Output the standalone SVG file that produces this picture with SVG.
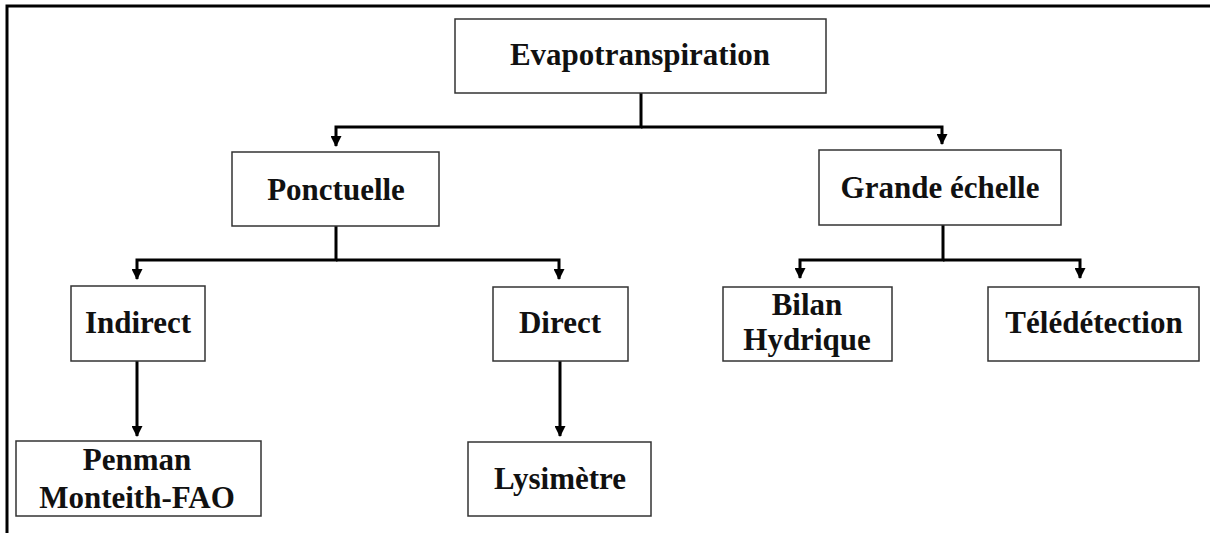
<svg xmlns="http://www.w3.org/2000/svg" width="1210" height="533" viewBox="0 0 1210 533">
  <defs>
    <style>
      .box { fill: #ffffff; stroke: #333333; stroke-width: 1.5; }
      .lbl { font-family: "Liberation Serif", "Times New Roman", serif; font-weight: bold; font-size: 31px; fill: #111111; text-anchor: middle; }
      .conn { fill: none; stroke: #000000; stroke-width: 3; marker-end: url(#arr); }
      .frame { fill: none; stroke: #000000; stroke-width: 3; }
    </style>
    <marker id="arr" markerUnits="userSpaceOnUse" markerWidth="11" markerHeight="11" refX="10" refY="5.5" orient="auto">
      <path d="M0,0 L11,5.5 L0,11 z" fill="#000000"/>
    </marker>
  </defs>
  <rect x="0" y="0" width="1210" height="533" fill="#ffffff"/>
  <path class="frame" d="M7,533 V6 H1210"/>

  <g id="connectors">
    <path class="conn" d="M641,93 V127 H336 V146"/>
    <path class="conn" d="M641,127 H942 V144"/>
    <path class="conn" d="M336,226 V260 H137 V279"/>
    <path class="conn" d="M336,260 H559 V279"/>
    <path class="conn" d="M943,225 V260 H800 V278"/>
    <path class="conn" d="M943,260 H1080 V278"/>
    <path class="conn" d="M137,361 V436"/>
    <path class="conn" d="M560,361 V436"/>
  </g>

  <g id="evapotranspiration">
    <rect class="box" x="455" y="19" width="371" height="74"/>
    <text class="lbl" x="640" y="65">Evapotranspiration</text>
  </g>
  <g id="ponctuelle">
    <rect class="box" x="232" y="152" width="207" height="74"/>
    <text class="lbl" x="336" y="200">Ponctuelle</text>
  </g>
  <g id="grande-echelle">
    <rect class="box" x="819" y="150" width="242" height="75"/>
    <text class="lbl" x="940" y="198">Grande échelle</text>
  </g>
  <g id="indirect">
    <rect class="box" x="71" y="286" width="134" height="75"/>
    <text class="lbl" x="138" y="333">Indirect</text>
  </g>
  <g id="direct">
    <rect class="box" x="493" y="287" width="135" height="74"/>
    <text class="lbl" x="560" y="333">Direct</text>
  </g>
  <g id="bilan-hydrique">
    <rect class="box" x="723" y="287" width="169" height="74"/>
    <text class="lbl" x="807" y="315">Bilan</text>
    <text class="lbl" x="807" y="350">Hydrique</text>
  </g>
  <g id="teledetection">
    <rect class="box" x="988" y="287" width="211" height="74"/>
    <text class="lbl" x="1094" y="333">Télédétection</text>
  </g>
  <g id="penman">
    <rect class="box" x="16" y="441" width="245" height="75"/>
    <text class="lbl" x="137" y="470">Penman</text>
    <text class="lbl" x="137" y="508">Monteith-FAO</text>
  </g>
  <g id="lysimetre">
    <rect class="box" x="468" y="442" width="183" height="74"/>
    <text class="lbl" x="560" y="489">Lysimètre</text>
  </g>
</svg>
